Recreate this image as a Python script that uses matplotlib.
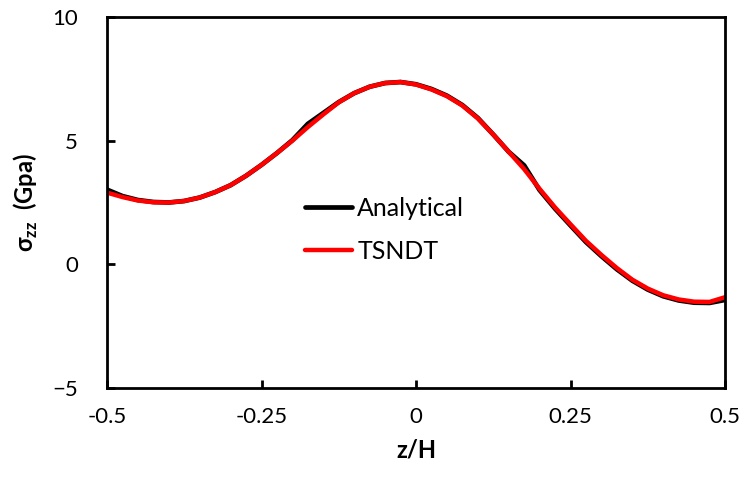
import matplotlib
matplotlib.use('Agg')
from matplotlib import pyplot as plt

plt.rcParams['font.family'] = ['Lato', 'DejaVu Sans']
plt.rcParams['mathtext.fontset'] = 'custom'
plt.rcParams['mathtext.rm'] = 'Lato'
plt.rcParams['mathtext.bf'] = 'Lato:bold'

# z/H positions
z = [-0.5, -0.475, -0.45, -0.425, -0.4, -0.375, -0.35, -0.325, -0.3, -0.275,
     -0.25, -0.225, -0.2, -0.175, -0.15, -0.125, -0.1, -0.075, -0.05, -0.025,
     0.0, 0.025, 0.05, 0.075, 0.1, 0.125, 0.15, 0.175, 0.2, 0.225,
     0.25, 0.275, 0.3, 0.325, 0.35, 0.375, 0.4, 0.425, 0.45, 0.475, 0.5]

# TSNDT (red)
tsndt = [2.90, 2.72, 2.58, 2.51, 2.50, 2.56, 2.70, 2.92, 3.20, 3.58,
         4.02, 4.50, 5.00, 5.55, 6.06, 6.55, 6.92, 7.18, 7.33, 7.37,
         7.27, 7.07, 6.80, 6.42, 5.90, 5.25, 4.55, 3.85, 3.05, 2.30,
         1.62, 0.95, 0.38, -0.15, -0.62, -0.98, -1.25, -1.42, -1.51, -1.52, -1.33]

# Analytical (black)
analytical = [3.02, 2.76, 2.60, 2.52, 2.50, 2.56, 2.70, 2.92, 3.20, 3.58,
              4.02, 4.50, 5.02, 5.68, 6.12, 6.56, 6.92, 7.18, 7.33, 7.37,
              7.28, 7.09, 6.82, 6.44, 5.92, 5.25, 4.55, 4.00, 3.00, 2.25,
              1.57, 0.90, 0.33, -0.20, -0.66, -1.02, -1.29, -1.46, -1.55, -1.56, -1.44]

xticks = [-0.5, -0.25, 0, 0.25, 0.5]
xtick_labels = ['-0.5', '-0.25', '0', '0.25', '0.5']
yticks = [-5, 0, 5, 10]

fig = plt.figure(figsize=(7.44, 4.83), dpi=100)
ax = fig.add_axes([107 / 744, 1 - 388 / 483, 618 / 744, 371 / 483])

ax.plot(z, analytical, color='black', lw=3.4, label='Analytical', solid_capstyle='round')
ax.plot(z, tsndt, color='#ff0000', lw=3.2, label='TSNDT', solid_capstyle='round')

ax.set_xlim(-0.5, 0.5)
ax.set_ylim(-5, 10)
ax.set_xticks(xticks)
ax.set_xticklabels(xtick_labels)
ax.set_yticks(yticks)

for side in ['left', 'bottom', 'top', 'right']:
    ax.spines[side].set_linewidth(2)
ax.tick_params(axis='both', direction='in', length=6, width=2, labelsize=16,
               colors='black', top=False, right=False)
ax.tick_params(axis='x', pad=14)
ax.tick_params(axis='y', pad=21)

ax.set_xlabel('z/H', fontsize=17, fontweight='bold')
ax.xaxis.set_label_coords(0.5, -0.135)
ax.set_ylabel(r'σ$_{\mathbf{zz}}$  (Gpa)', fontsize=17, fontweight='bold')
ax.yaxis.set_label_coords(-0.108, 0.5)

leg = ax.legend(loc='upper left', bbox_to_anchor=(0.32, 0.515), frameon=False,
                fontsize=18, handlelength=1.9, handletextpad=0.2, labelspacing=0.8,
                borderpad=0, borderaxespad=0)

fig.savefig('out.png', dpi=100)
